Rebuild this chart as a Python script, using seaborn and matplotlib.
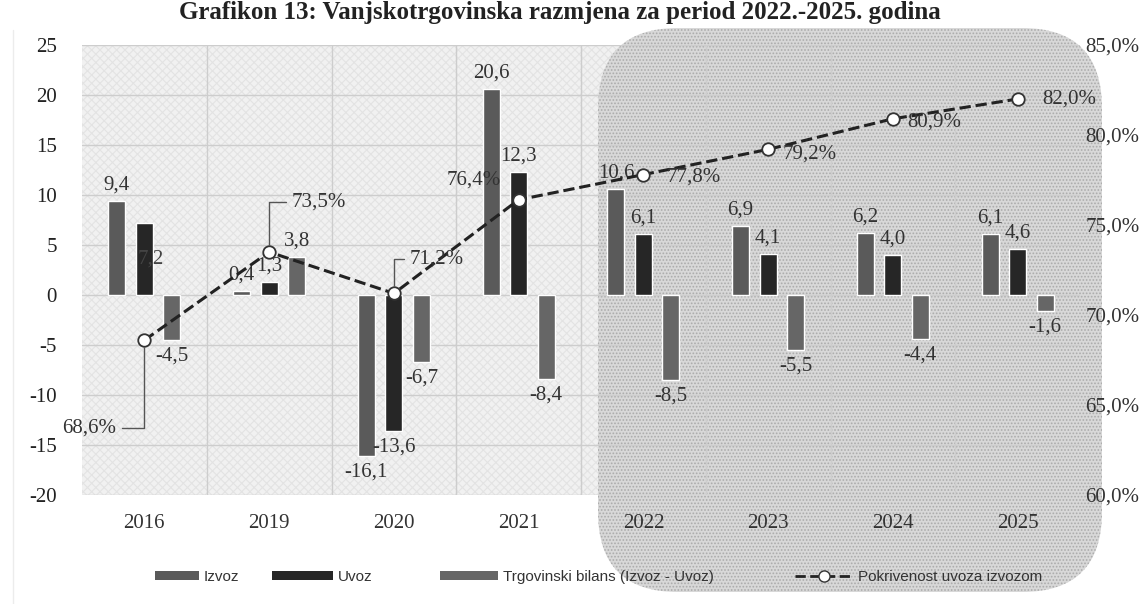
import numpy as np
import pandas as pd
import seaborn as sns
import matplotlib
matplotlib.use('Agg')
import matplotlib.pyplot as plt
from matplotlib.patches import FancyBboxPatch, Rectangle, Patch
from matplotlib.lines import Line2D
from matplotlib.ticker import FuncFormatter
from matplotlib.transforms import IdentityTransform

# data
years = ['2016', '2019', '2020', '2021', '2022', '2023', '2024', '2025']
izvoz = [9.4, 0.4, -16.1, 20.6, 10.6, 6.9, 6.2, 6.1]
uvoz = [7.2, 1.3, -13.6, 12.3, 6.1, 4.1, 4.0, 4.6]
bilans = [-4.5, 3.8, -6.7, -8.4, -8.5, -5.5, -4.4, -1.6]
pokrivenost = [68.6, 73.5, 71.2, 76.4, 77.8, 79.2, 80.9, 82.0]

series_names = ['Izvoz', 'Uvoz', 'Trgovinski bilans (Izvoz - Uvoz)']
line_name = 'Pokrivenost uvoza izvozom'
title = 'Grafikon 13: Vanjskotrgovinska razmjena za period 2022.-2025. godina'

colors = ['#5a5a5a', '#262626', '#666666']


def comma(v, fmt='{:.1f}'):
    return fmt.format(v).replace('.', ',')


def build_frame():
    return pd.DataFrame({
        'Godina': years * 3,
        'Vrijednost': izvoz + uvoz + bilans,
        'Serija': [series_names[0]] * len(years) + [series_names[1]] * len(years)
                  + [series_names[2]] * len(years),
    })


def main():
    sns.set_theme(style='white')
    plt.rcParams['font.family'] = ['Liberation Serif', 'DejaVu Serif']
    plt.rcParams['axes.unicode_minus'] = False
    plt.rcParams['hatch.linewidth'] = 0.8

    W, H = 1148, 604
    fig = plt.figure(figsize=(W / 100, H / 100), dpi=100)
    fig.patch.set_facecolor('white')

    L, R, T, B = 82, 1080, 45, 495
    ax = fig.add_axes([L / W, 1 - B / H, (R - L) / W, (B - T) / H])
    ax.set_facecolor('none')

    # plot area background (light crosshatch)
    fig.patches.append(Rectangle((L, H - B), R - L, B - T, transform=IdentityTransform(),
                                 facecolor='#f1f1f1', edgecolor='#e3e3e3', hatch='xxxx',
                                 lw=0, zorder=-3))
    # rounded dotted region for 2022-2025
    fig.patches.append(FancyBboxPatch((598, H - 592), 504, 564,
                                      boxstyle='round,pad=0,rounding_size=80',
                                      transform=IdentityTransform(),
                                      facecolor='#d8d8d8', edgecolor='#ababab',
                                      hatch='.....', lw=0, zorder=-2))
    # faint scan edge on the left
    fig.add_artist(Line2D([13 / W] * 2, [0, 1 - 30 / H], transform=fig.transFigure,
                          color='#ececec', lw=1))

    df = build_frame()
    sns.barplot(data=df, x='Godina', y='Vrijednost', hue='Serija', hue_order=series_names,
                palette=colors, saturation=1, width=0.66, gap=0.38, ax=ax, legend=False,
                zorder=3)

    for k, cont in enumerate(ax.containers):
        vals = [izvoz, uvoz, bilans][k]
        labels = [comma(v) for v in vals]
        if k == 1:
            labels[0] = ''
        ax.bar_label(cont, labels=labels, padding=5, fontsize=15, color='#333333')
    # the 2016 Uvoz label sits inside its bar in the original
    bar = ax.containers[1][0]
    ax.text(bar.get_x() + bar.get_width() / 2 + 0.05, bar.get_height() / 2, comma(uvoz[0]),
            ha='center', va='center', fontsize=15, color='#444444', zorder=4)

    ax.set_ylim(-20, 25)
    ax.set_yticks(range(-20, 26, 5))
    ax.set_yticklabels([str(v) for v in range(-20, 26, 5)])
    ax.set_xlim(-0.5, len(years) - 0.5)
    ax.set_xticks(np.arange(0.5, len(years) - 1, 1), minor=True)
    ax.set_axisbelow(True)
    ax.grid(True, axis='y', color='#cdcdcd', lw=1)
    ax.grid(True, which='minor', axis='x', color='#cdcdcd', lw=1)
    ax.grid(False, which='major', axis='x')
    ax.tick_params(axis='y', length=0, pad=18, labelsize=15, labelcolor='#222222')
    ax.tick_params(axis='x', which='both', length=0, pad=14, labelsize=15, labelcolor='#333333')
    ax.set_xlabel('')
    ax.set_ylabel('')
    for s in ax.spines.values():
        s.set_visible(False)

    # coverage line on right axis
    ax2 = ax.twinx()
    sns.pointplot(x=years, y=pokrivenost, ax=ax2, color='#222222', linestyles='--',
                  markers='o', markersize=9, markerfacecolor='white',
                  markeredgecolor='#333333', markeredgewidth=1.3, linewidth=2.2,
                  errorbar=None)
    ax2.set_ylim(60, 85)
    ax2.set_yticks(range(60, 86, 5))
    ax2.yaxis.set_major_formatter(FuncFormatter(lambda v, p: comma(v) + '%'))
    ax2.tick_params(axis='y', length=0, pad=4, labelsize=15, labelcolor='#333333')
    ax2.set_xlim(-0.5, len(years) - 0.5)
    ax2.set_ylabel('')
    for s in ax2.spines.values():
        s.set_visible(False)

    offsets = [(-40, -63), (36, 36), (31, 25), (-32, 14), (36, -2), (30, -3), (30, -2), (37, 0)]
    leaders = {0: 'angle,angleA=0,angleB=90,rad=0',
               1: 'angle,angleA=180,angleB=90,rad=0',
               2: 'angle,angleA=180,angleB=90,rad=0'}
    for i, v in enumerate(pokrivenost):
        kw = {}
        if i in leaders:
            kw['arrowprops'] = dict(arrowstyle='-', color='#555555', lw=1,
                                    connectionstyle=leaders[i], shrinkA=2, shrinkB=5)
        ax2.annotate(comma(v) + '%', xy=(i, v), xytext=offsets[i], textcoords='offset points',
                     ha='center', va='center', fontsize=15, color='#333333', zorder=5, **kw)

    # legend entries, each placed where the original has it
    handles = [Patch(facecolor=c, edgecolor='none') for c in colors]
    handles.append(Line2D([], [], color='#222222', ls='--', lw=2, marker='o', markersize=8,
                          markerfacecolor='white', markeredgecolor='#333333'))
    labels = series_names + [line_name]
    starts = [155, 272, 440, 795]
    lengths = [2.9, 4.0, 3.8, 3.8]
    for h, lab, x0, hl in zip(handles, labels, starts, lengths):
        fig.legend([h], [lab], loc='center left', bbox_to_anchor=(x0 / W, 1 - 577 / H),
                   frameon=False, borderaxespad=0, borderpad=0,
                   prop={'family': ['Liberation Sans'], 'size': 11},
                   handlelength=hl, handleheight=0.5, handletextpad=0.3,
                   labelcolor='#333333')

    fig.text(0.488, 1 - 19 / H, title, ha='center', va='baseline', fontsize=18,
             fontweight='bold', color='#222222')

    fig.savefig('out.png', dpi=100)


if __name__ == '__main__':
    main()
